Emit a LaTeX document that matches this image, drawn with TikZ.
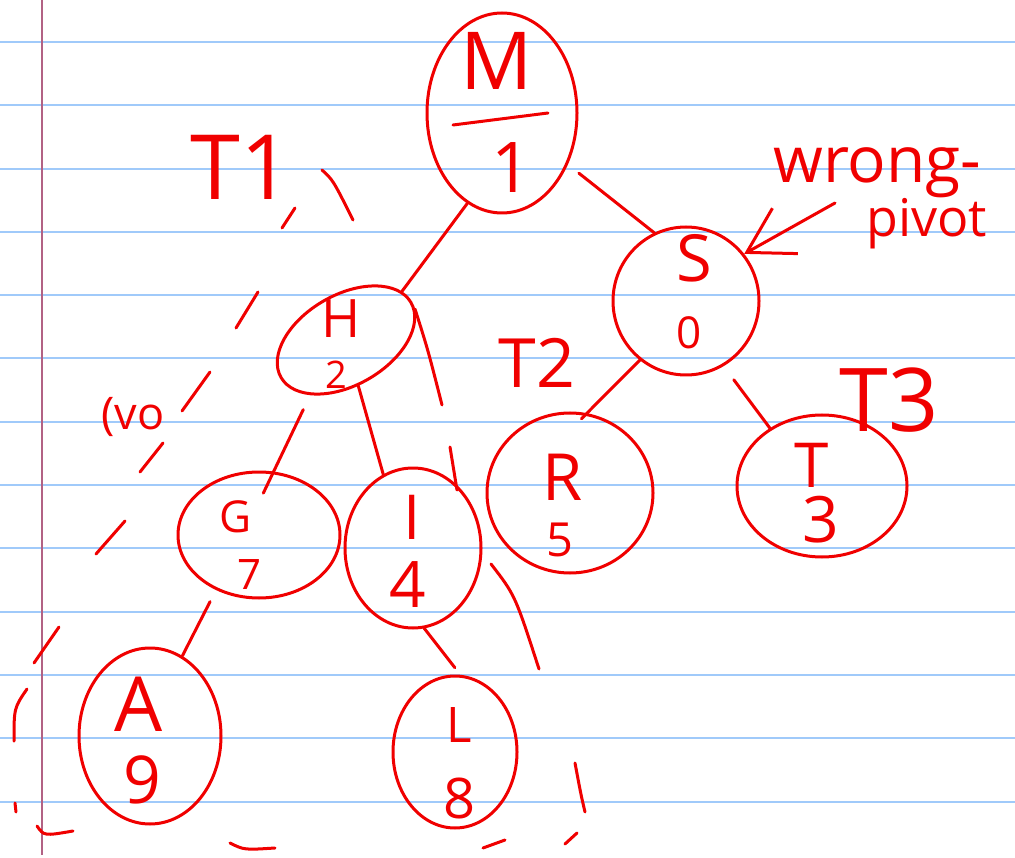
\documentclass[tikz,border=0pt]{standalone}
\usepackage{fontspec}
\setmainfont{Open Sans}
\usetikzlibrary{shapes.geometric,arrows.meta}
\definecolor{pen}{RGB}{240,0,0}
\definecolor{ruling}{RGB}{160,202,250}
\definecolor{marginline}{RGB}{178,98,132}
\begin{document}
\begin{tikzpicture}[x=1pt,y=-1pt,
  ink/.style={draw=pen, line width=3pt, line cap=round, line join=round},
  treenode/.style 2 args={ink, ellipse, inner sep=0pt, minimum width=#1pt, minimum height=#2pt},
  hand/.style={font=\fontsize{#1}{#1}\selectfont, text=pen, inner sep=0pt},
  gapstroke/.style={ink}
]
\useasboundingbox (0,0) rectangle (1015,858);
% notebook paper
\fill[white] (0,0) rectangle (1015,858);
\foreach \k in {0,...,12}
  \draw[ruling, line width=2pt] (0,{42+63.3*\k}) -- (1015,{42+63.3*\k});
\draw[marginline, line width=1.6pt] (42,0) -- (42,855);

% treap nodes: key above, priority below
\node[treenode={150}{200}] (m) at (502,113) {};
\node[treenode={150}{90}, rotate=30] (h) at (346,340) {};
\node[treenode={146}{148}] (s) at (686,301) {};
\node[treenode={162}{126}] (g) at (259,535) {};
\node[treenode={136}{160}] (i) at (413,548) {};
\node[treenode={166}{160}] (r) at (570,493) {};
\node[treenode={170}{142}] (t) at (822,486) {};
\node[treenode={142}{176}] (a) at (150,736) {};
\node[treenode={124}{152}] (l) at (455,752) {};

\node[hand=80] (mk) at (497,61) {M};
\draw[ink] (m.center) ++(-49,12) -- ++(95,-12);
\node[hand=70] (mp) at (512,168) {1};
\node[hand=53] (hk) at (341,319) {H};
\node[hand=38] (hp) at (336,375) {2};
\node[hand=65] (sk) at (694,258) {S};
\node[hand=44] (sp) at (689,333) {0};
\node[hand=44] (gk) at (236,517) {G};
\node[hand=42] (gp) at (250,575) {7};
\node[hand=62] (ik) at (412,517) {I};
\node[hand=64] (ip) at (408,585) {4};
\node[hand=65] (rk) at (563,477) {R};
\node[hand=47] (rp) at (560,540) {5};
\node[hand=62] (tk) at (812,465) {T};
\node[hand=64] (tp) at (821,520) {3};
\node[hand=76] (ak) at (139,704) {A};
\node[hand=66] (ap) at (142,780) {9};
\node[hand=49] (lk) at (459,725) {L};
\node[hand=56] (lp) at (460,798) {8};

% tree edges
\draw[ink] (m.249) -- (h.11);
\draw[ink, shorten <=14pt] (m.322) -- (s.115);
\draw[ink, shorten <=16pt, shorten >=-24pt] (h.207) -- (g.77);
\draw[ink] (h.255) -- (i.112);
\draw[ink, shorten <=13pt] (g.232) -- (a.68);
\draw[ink, shorten >=9pt] (i.278) -- (l.86);
\draw[ink, shorten >=-8pt] (s.232) -- (r.78);
\draw[ink, shorten <=17pt] (s.300) -- (t.132);

% subtree labels
\node[hand=90] (t1) at (241,167) {T1};
\node[hand=68] (t2) at (537,363) {T2};
\node[hand=88] (t3) at (889,400) {T3};
\node[hand=45] (ivo) at (133,417) {(vo};

% note with arrow
\node[hand=64, anchor=base west] (wrong) at (773,183) {wrong-};
\node[hand=52, anchor=base west] (pivot) at (866,237) {pivot};
\coordinate (note) at (835,203);
\draw[ink, -{Straight Barb[length=44pt,width=52pt]}] (note) -- (s.39);

% dashed outline of subtree T1
\draw[gapstroke] (322,170) .. controls (333,180) .. (353,220);
\draw[gapstroke] (295,208) -- (282,228);
\draw[gapstroke] (258,292) -- (236,328);
\draw[gapstroke] (210,372) -- (182,411);
\draw[gapstroke] (163,443) -- (140,472);
\draw[gapstroke] (125,521) -- (96,554);
\draw[gapstroke] (59,627) -- (34,663);
\draw[gapstroke] (27,689) .. controls (14,708) .. (14,741);
\draw[gapstroke] (15,803) -- (16,812);
\draw[gapstroke] (37,826) .. controls (44,836) .. (73,831);
\draw[gapstroke] (230,843) .. controls (244,850) .. (275,848);
\draw[gapstroke] (483,848) -- (505,840);
\draw[gapstroke] (565,844) -- (577,833);
\draw[gapstroke] (415,309) .. controls (428,350) .. (442,405);
\draw[gapstroke] (450,447) -- (457,490);
\draw[gapstroke] (491,564) .. controls (515,595) .. (539,669);
\draw[gapstroke] (575,763) .. controls (581,795) .. (585,812);
\end{tikzpicture}
\end{document}
